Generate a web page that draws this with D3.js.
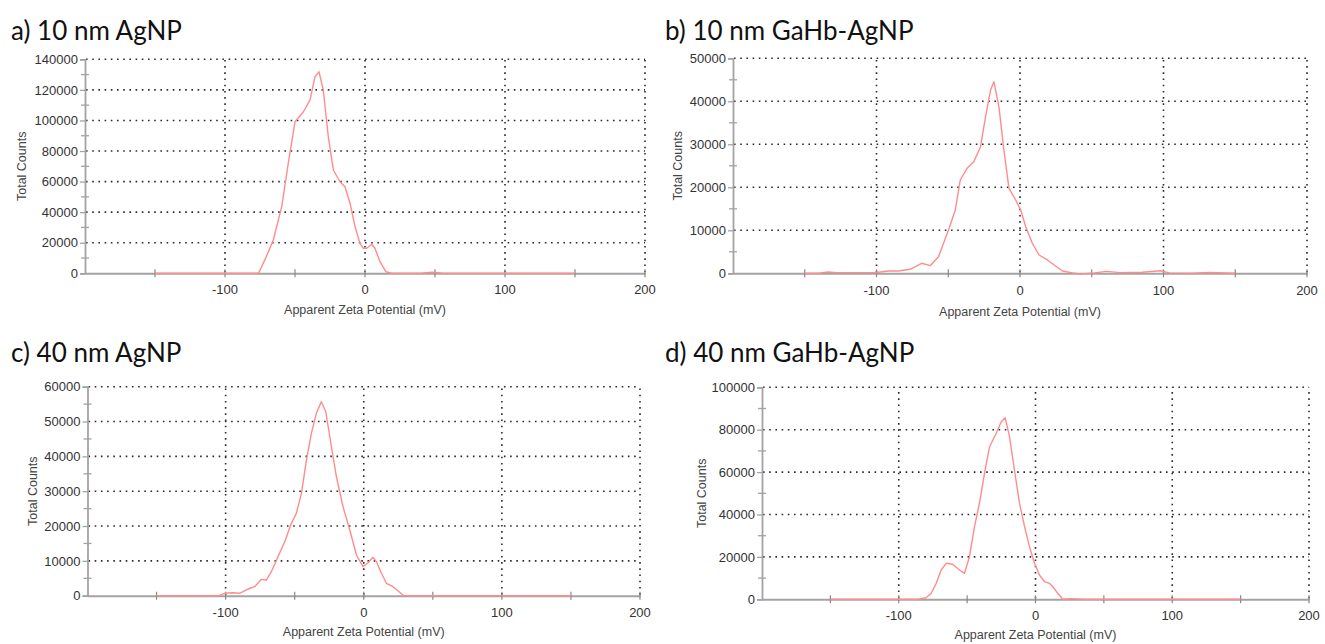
<!DOCTYPE html>
<html>
<head>
<meta charset="utf-8">
<script src="https://cdn.jsdelivr.net/npm/d3@7"></script>
<style>
  html, body { margin: 0; padding: 0; background: #fff; }
  svg { display: block; }
</style>
</head>
<body>
<svg id="chart" width="1325" height="644"></svg>
<script>
// ---------------- DATA ----------------
const titles = ["a) 10 nm AgNP", "b) 10 nm GaHb-AgNP", "c) 40 nm AgNP", "d) 40 nm GaHb-AgNP"];
const xLabel = "Apparent Zeta Potential (mV)";
const yLabel = "Total Counts";
const xDomain = [-200, 200];
const xTickLabels = [-100, 0, 100, 200];
const xMinorTicks = [-150, -100, -50, 0, 50, 100, 150, 200];

// panel a
const yMaxA = 140000, yStepA = 20000, yMinorA = 10000;
const zetaA   = [-150, -100, -76, -70.5, -65.5, -59.5, -54.8, -50, -44, -39.3, -35.7, -32.9, -29.8, -26.2, -22.6, -17.9, -14.3, -10.7, -7.1, -3.6, -1.2, 1.2, 4.8, 7.1, 10.7, 15, 19, 40, 48, 56, 150];
const countsA = [0, 0, 0, 10900, 21800, 43600, 72000, 99100, 105700, 113300, 128600, 131900, 119900, 89300, 67600, 59900, 56600, 45800, 30500, 19600, 16350, 16350, 19000, 16350, 7600, 1000, 0, 0, 700, 0, 0];

// panel b
const yMaxB = 50000, yStepB = 10000, yMinorB = 5000;
const zetaB   = [-150, -140, -134, -127, -100, -91.8, -84.8, -76.6, -68.5, -62.6, -56.8, -49.8, -45.1, -41.6, -36.9, -32.2, -27.5, -24, -20.5, -18.2, -14.7, -11.2, -7.7, -3, 0.5, 4, 8.6, 13.3, 19.1, 23.8, 29.6, 36.6, 42, 52, 60, 70, 85, 98, 104, 120, 132, 150];
const countsB = [0, 50, 300, 150, 200, 535, 535, 930, 2326, 1770, 3860, 10070, 14720, 21700, 24420, 25960, 29450, 36430, 42640, 44570, 38750, 28680, 19770, 17050, 14720, 10840, 6980, 4260, 3100, 1930, 530, 100, -150, 100, 450, 150, 250, 600, 100, 50, 200, 0];

// panel c
const yMaxC = 60000, yStepC = 10000, yMinorC = 5000;
const zetaC   = [-150, -118.8, -105, -100.7, -94.7, -89.9, -83.8, -79, -74.1, -70.5, -66.9, -62.1, -57.2, -52.4, -48.8, -45.1, -41.5, -37.9, -34.3, -30.7, -27.5, -23.4, -19.8, -15, -10.1, -5.3, -0.5, 3.1, 6.7, 9.2, 12.8, 16.4, 21.2, 24.9, 29, 150];
const countsC = [0, 0, 0, 690, 860, 690, 1920, 2580, 4700, 4500, 6890, 11200, 15500, 20780, 23650, 29390, 38950, 46610, 52350, 55680, 52810, 42760, 34150, 25540, 18860, 11680, 8320, 9470, 11020, 9760, 6430, 3560, 2580, 1350, 0, 0];

// panel d
const yMaxD = 100000, yStepD = 20000, yMinorD = 10000;
const zetaD   = [-150, -128.7, -99.5, -86, -80, -76.3, -72.6, -69, -65.3, -60.5, -55.6, -51.9, -48.3, -44.6, -41, -37.3, -33.6, -28.7, -25.1, -22.2, -19, -15.4, -11.7, -8, -4.4, -0.7, 2.9, 6.6, 10.2, 12.7, 16.3, 20, 25.5, 30, 36, 150];
const countsD = [0, 0, 0, 0, 750, 2830, 7550, 13820, 16980, 16510, 13820, 12260, 20100, 34250, 45280, 59430, 71980, 78300, 83780, 85660, 76700, 60990, 45280, 34250, 24810, 16980, 11460, 8300, 7550, 5940, 2830, 0, 300, 200, 0, 0];

// ---------------- LAYOUT ----------------
const panels = [
  { title: titles[0], zeta: zetaA, counts: countsA, yMax: yMaxA, yStep: yStepA, yMinor: yMinorA,
    x0: 85, x1: 645, yTop: 59.3, yBot: 273.3, titleX: 11, titleY: 40, tickY: 294, labelY: 314, yLabX: 22, clipRight: 658 },
  { title: titles[1], zeta: zetaB, counts: countsB, yMax: yMaxB, yStep: yStepB, yMinor: yMinorB,
    x0: 733, x1: 1307, yTop: 58.3, yBot: 273.3, titleX: 665, titleY: 40, tickY: 295, labelY: 316, yLabX: 678, clipRight: 1325 },
  { title: titles[2], zeta: zetaC, counts: countsC, yMax: yMaxC, yStep: yStepC, yMinor: yMinorC,
    x0: 87.5, x1: 640, yTop: 386.7, yBot: 595.7, titleX: 11, titleY: 362, tickY: 617, labelY: 636, yLabX: 33, clipRight: 660 },
  { title: titles[3], zeta: zetaD, counts: countsD, yMax: yMaxD, yStep: yStepD, yMinor: yMinorD,
    x0: 762, x1: 1309, yTop: 387.3, yBot: 599.3, titleX: 665, titleY: 362, tickY: 620, labelY: 639, yLabX: 702, clipRight: 1325 }
];

const svg = d3.select("#chart");
const defs = svg.append("defs");
const axisFont = "'Liberation Sans', Arial, sans-serif";
const titleFont = "Lato, 'Open Sans', sans-serif";
const gridColor = "#2a2a2a";
const axisColor = "#a3a3a3";
const lineColor = "#ff8c8c";

panels.forEach((p, i) => {
  defs.append("clipPath").attr("id", "clip" + i)
    .append("rect").attr("x", 0).attr("y", 0).attr("width", p.clipRight).attr("height", 644);

  const g = svg.append("g").attr("clip-path", `url(#clip${i})`);
  const x = d3.scaleLinear().domain(xDomain).range([p.x0, p.x1]);
  const y = d3.scaleLinear().domain([0, p.yMax]).range([p.yBot, p.yTop]);

  // title
  g.append("text").attr("x", p.titleX).attr("y", p.titleY)
    .attr("font-family", titleFont).attr("font-size", 26).attr("fill", "#111")
    .text(p.title);

  const yMajor = d3.range(0, p.yMax + 1, p.yStep);
  const yMinor = d3.range(0, p.yMax + 1, p.yMinor).filter(v => v % p.yStep !== 0);

  // horizontal dotted grid
  g.append("g").selectAll("line").data(yMajor.filter(v => v > 0)).join("line")
    .attr("x1", p.x0 + 1).attr("x2", p.x1)
    .attr("y1", d => y(d)).attr("y2", d => y(d))
    .attr("stroke", gridColor).attr("stroke-width", 1.6).attr("stroke-dasharray", "1.6,4.6");

  // vertical dotted grid
  g.append("g").selectAll("line").data(xTickLabels).join("line")
    .attr("x1", d => x(d)).attr("x2", d => x(d))
    .attr("y1", p.yBot - 1).attr("y2", p.yTop)
    .attr("stroke", gridColor).attr("stroke-width", 1.6).attr("stroke-dasharray", "1.6,4.6");

  // y axis
  const yAxis = d3.axisLeft(y).tickValues(yMajor).tickSize(5).tickPadding(2).tickFormat(d3.format("d"));
  const ya = g.append("g").attr("transform", `translate(${p.x0},0)`).call(yAxis);
  ya.select(".domain").attr("stroke", axisColor).attr("stroke-width", 1.8);
  ya.selectAll(".tick line").attr("stroke", axisColor).attr("stroke-width", 1.3);
  ya.selectAll(".tick text").attr("font-family", axisFont).attr("font-size", 13).attr("fill", "#333");
  // minor y ticks (crossing the axis)
  g.append("g").selectAll("line").data(yMinor).join("line")
    .attr("x1", p.x0 - 4).attr("x2", p.x0 + 4)
    .attr("y1", d => y(d)).attr("y2", d => y(d))
    .attr("stroke", axisColor).attr("stroke-width", 1.3);

  // x axis
  const xa = g.append("g").attr("transform", `translate(0,${p.yBot})`)
    .call(d3.axisBottom(x).tickValues(xMinorTicks).tickSize(0).tickFormat(""));
  xa.select(".domain").attr("stroke", axisColor).attr("stroke-width", 2);
  g.append("g").selectAll("line").data(xMinorTicks).join("line")
    .attr("x1", d => x(d)).attr("x2", d => x(d))
    .attr("y1", p.yBot - 4).attr("y2", p.yBot + 4)
    .attr("stroke", "#888").attr("stroke-width", 1.2);
  g.append("g").selectAll("text").data(xTickLabels).join("text")
    .attr("x", d => x(d)).attr("y", p.tickY).attr("text-anchor", "middle")
    .attr("font-family", axisFont).attr("font-size", 13).attr("fill", "#333")
    .text(d => d);

  // axis labels
  g.append("text").attr("x", x(0)).attr("y", p.labelY).attr("text-anchor", "middle")
    .attr("font-family", axisFont).attr("font-size", 12.5).attr("fill", "#444")
    .text(xLabel);
  g.append("text")
    .attr("transform", `translate(${p.yLabX + 4},${(p.yTop + p.yBot) / 2}) rotate(-90)`)
    .attr("text-anchor", "middle")
    .attr("font-family", axisFont).attr("font-size", 12.5).attr("fill", "#444")
    .text(yLabel);

  // data line
  const pts = p.zeta.map((z, k) => [z, p.counts[k]]);
  g.append("path").datum(pts)
    .attr("fill", "none").attr("stroke", lineColor).attr("stroke-width", 1.4)
    .attr("stroke-linejoin", "round")
    .attr("d", d3.line().x(d => x(d[0])).y(d => y(d[1])));
});
</script>
</body>
</html>
